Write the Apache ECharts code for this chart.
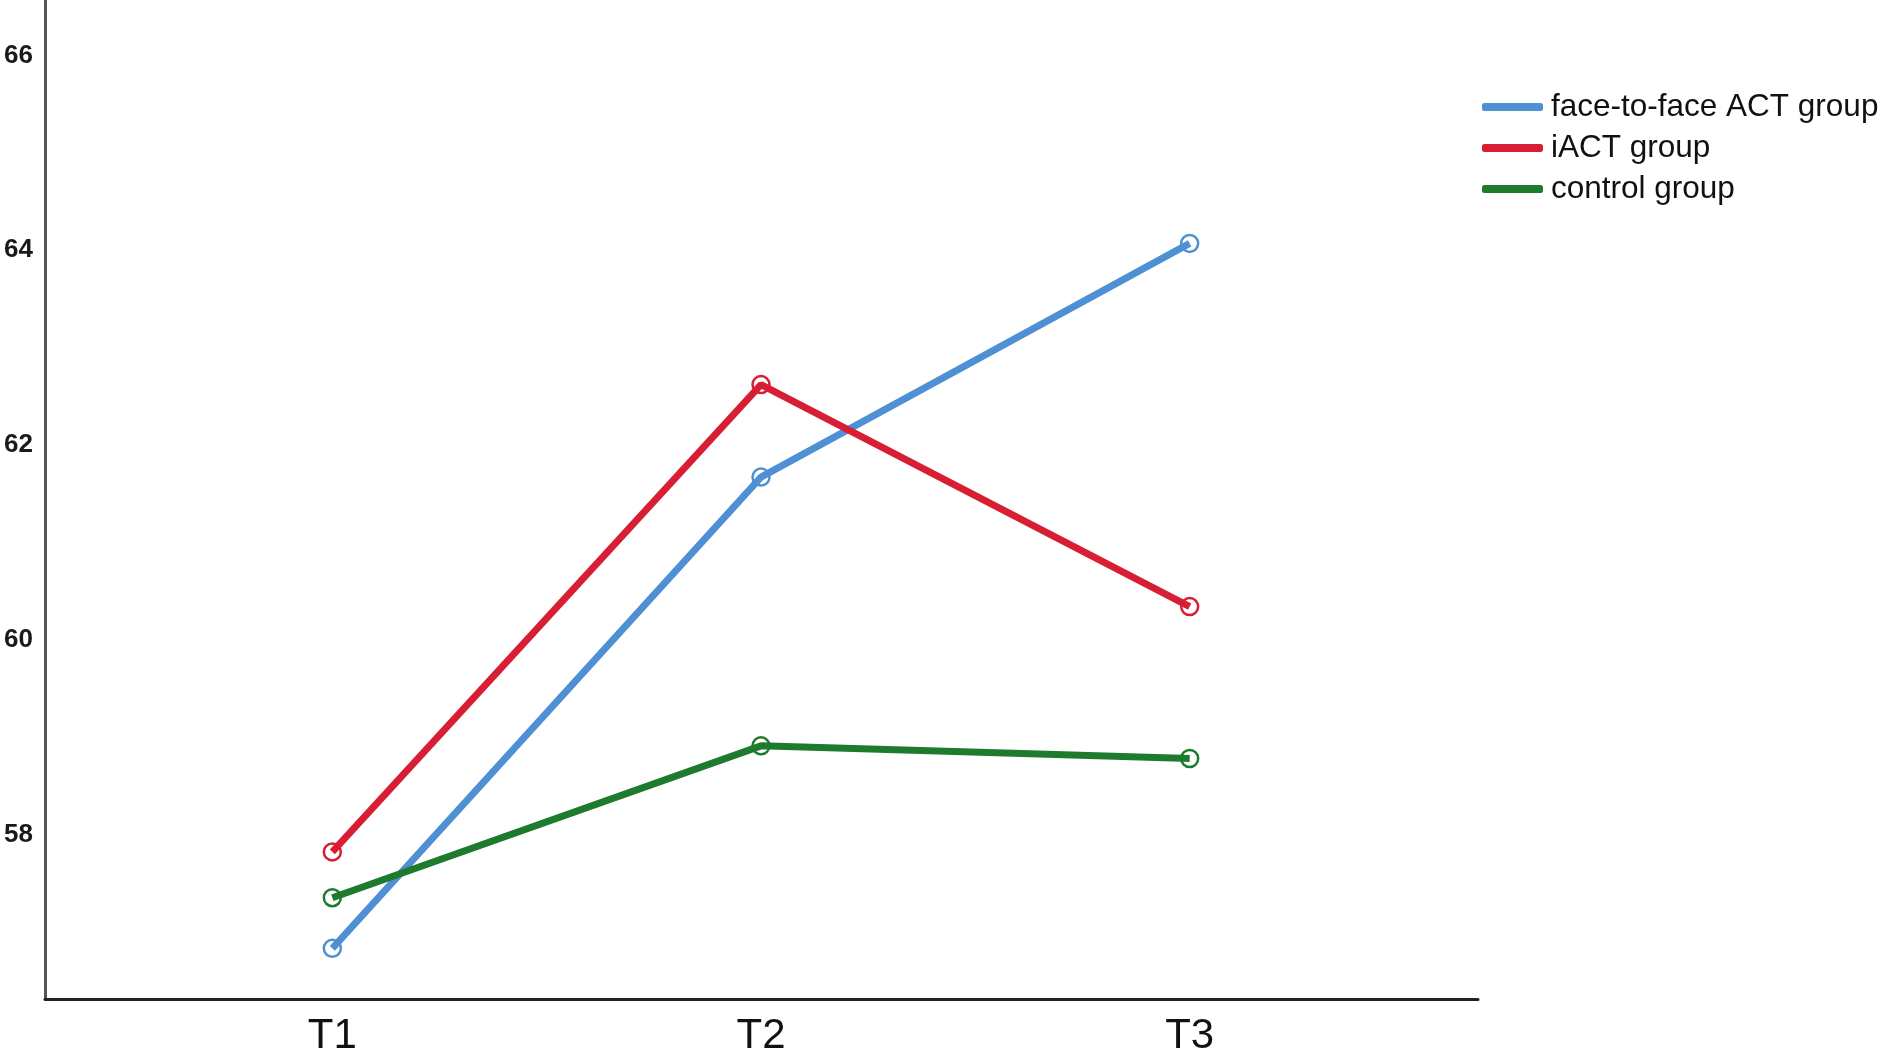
<!DOCTYPE html>
<html>
<head>
<meta charset="utf-8">
<script src="https://cdn.jsdelivr.net/npm/echarts@6/dist/echarts.min.js"></script>
<style>
  html, body { margin: 0; padding: 0; background: #fff; }
  #main { width: 1883px; height: 1058px; }
</style>
</head>
<body>
<div id="main"></div>
<script>
// time points and group means
var timePoints = ['T1', 'T2', 'T3'];
var groupNames = ['face-to-face ACT group', 'iACT group', 'control group'];
var faceToFace = [56.83, 61.67, 64.07];
var iact = [57.82, 62.62, 60.34];
var control = [57.35, 58.91, 58.78];
var groupColors = ['#4f8fd4', '#d81e33', '#1e7b2e'];
var yTicks = [58, 60, 62, 64, 66];

var yMin = 56.31, yMax = 66.57;

function makeSeries(name, values, color) {
    return {
        name: name,
        type: 'line',
        xAxisIndex: 1,
        yAxisIndex: 1,
        data: values,
        symbol: 'circle',
        symbolSize: 17,
        lineStyle: { color: color, width: 7 },
        itemStyle: { color: 'rgba(0,0,0,0)', borderColor: color, borderWidth: 2.5 },
        emphasis: { disabled: true },
        animation: false
    };
}

var myChart = echarts.init(document.getElementById('main'));

var option = {
    backgroundColor: '#fff',
    legend: {
        orient: 'vertical',
        left: 1477,
        top: 86,
        icon: 'roundRect',
        itemWidth: 59,
        itemHeight: 6,
        itemGap: 9,
        data: groupNames.map(function (n, i) {
            return { name: n, itemStyle: { color: groupColors[i] } };
        }),
        textStyle: {
            fontFamily: 'Liberation Sans',
            fontSize: 31.5,
            lineHeight: 32,
            color: '#111',
            padding: [0, 0, 0, 4]
        }
    },
    grid: [
        { left: 45, right: 405, top: 0, bottom: 59 },
        { left: 118, right: 479, top: 0, bottom: 59 }
    ],
    xAxis: [
        {
            type: 'value', gridIndex: 0, min: 0, max: 1,
            axisLine: { show: true, lineStyle: { color: '#222', width: 3 } },
            axisTick: { show: false },
            axisLabel: { show: false },
            splitLine: { show: false }
        },
        {
            type: 'category', gridIndex: 1, data: timePoints, boundaryGap: true,
            axisLine: { show: false },
            axisTick: { show: false },
            axisLabel: {
                fontFamily: 'Liberation Sans Narrow, Liberation Sans',
                fontSize: 42,
                color: '#111',
                margin: 16
            },
            splitLine: { show: false }
        }
    ],
    yAxis: [
        {
            type: 'value', gridIndex: 0, min: yMin, max: yMax,
            axisLine: { show: true, lineStyle: { color: '#555', width: 3 } },
            axisTick: { show: false },
            splitLine: { show: false },
            axisLabel: {
                customValues: yTicks,
                fontFamily: 'Liberation Sans',
                fontWeight: 'bold',
                fontSize: 26,
                color: '#1a1a1a',
                margin: 12,
                padding: [13, 0, 0, 0]
            }
        },
        {
            type: 'value', gridIndex: 1, min: yMin, max: yMax,
            show: false,
            splitLine: { show: false }
        }
    ],
    series: [
        makeSeries(groupNames[0], faceToFace, groupColors[0]),
        makeSeries(groupNames[1], iact, groupColors[1]),
        makeSeries(groupNames[2], control, groupColors[2])
    ]
};

myChart.setOption(option);
</script>
</body>
</html>
